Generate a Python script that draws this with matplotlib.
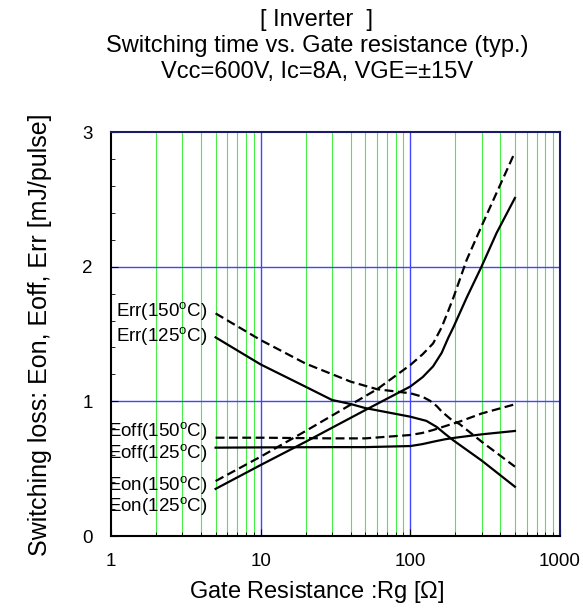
import numpy as np
import matplotlib
matplotlib.use('Agg')
import matplotlib.pyplot as plt
from matplotlib.ticker import FixedLocator, NullFormatter

plt.rcParams['font.family'] = ['Liberation Sans', 'DejaVu Sans']
plt.rcParams['mathtext.fontset'] = 'custom'
plt.rcParams['mathtext.rm'] = 'Liberation Sans'

# values
eon125_rg = [5, 10, 20, 50, 100, 121, 142, 162, 179, 194, 238, 299, 377, 500]
eon125 = [0.35, 0.527, 0.70, 0.935, 1.11, 1.18, 1.26, 1.36, 1.47, 1.55, 1.77, 2.0, 2.25, 2.51]
eon150_rg = [5, 10, 20, 60, 100, 121, 142, 162, 179, 194, 238, 299, 500]
eon150 = [0.408, 0.589, 0.78, 1.09, 1.27, 1.35, 1.43, 1.55, 1.67, 1.77, 2.05, 2.30, 2.85]
eoff125_rg = [5, 10, 30, 50, 100, 120, 142, 170, 200, 300, 500]
eoff125 = [0.656, 0.658, 0.66, 0.66, 0.668, 0.682, 0.70, 0.718, 0.73, 0.755, 0.78]
eoff150_rg = [5, 10, 30, 50, 100, 120, 142, 170, 214, 300, 500]
eoff150 = [0.73, 0.73, 0.725, 0.725, 0.75, 0.765, 0.787, 0.815, 0.85, 0.91, 0.978]
err125_rg = [5, 10, 20, 30, 40, 50, 100, 128, 150, 170, 194, 300, 500]
err125 = [1.475, 1.274, 1.108, 1.01, 0.98, 0.95, 0.886, 0.855, 0.81, 0.76, 0.71, 0.56, 0.366]
err150_rg = [5, 10, 20, 40, 60, 100, 120, 135, 150, 162, 185, 214, 300, 500]
err150 = [1.653, 1.455, 1.28, 1.146, 1.09, 1.06, 1.035, 1.005, 0.965, 0.925, 0.87, 0.83, 0.70, 0.515]

labels = ['Err(150$^{\\rm o}$C)', 'Err(125$^{\\rm o}$C)',
          'Eoff(150$^{\\rm o}$C)', 'Eoff(125$^{\\rm o}$C)',
          'Eon(150$^{\\rm o}$C)', 'Eon(125$^{\\rm o}$C)']
label_y = [1.665, 1.477, 0.774, 0.609, 0.371, 0.218]

fig = plt.figure(figsize=(5.83, 6.10), dpi=100)
ax = fig.add_axes([0.1904, 0.1213, 0.7701, 0.6623])

ax.set_xscale('log')
ax.set_xlim(1, 1000)
ax.set_ylim(0, 3)

minor_x = [m * d for d in (1, 10, 100) for m in range(2, 10)]
for v in minor_x:
    ax.axvline(v, color='#44ee44', lw=0.8, zorder=1)
for v in (10, 100):
    ax.axvline(v, color='#4444ff', lw=1.0, zorder=1)
for v in (1, 2):
    ax.axhline(v, color='#4444ff', lw=1.0, zorder=1)

ax.plot(eon125_rg, eon125, color='black', lw=1.6, zorder=3)
ax.plot(eon150_rg, eon150, color='black', lw=1.6, ls=(0, (4, 2)), zorder=3)
ax.plot(eoff125_rg, eoff125, color='black', lw=1.6, zorder=3)
ax.plot(eoff150_rg, eoff150, color='black', lw=1.6, ls=(0, (4, 2)), zorder=3)
ax.plot(err125_rg, err125, color='black', lw=1.6, zorder=3)
ax.plot(err150_rg, err150, color='black', lw=1.6, ls=(0, (4, 2)), zorder=3)

for t, y in zip(labels, label_y):
    ax.text(4.4, y, t, ha='right', va='center', fontsize=13.5, zorder=4)

ax.xaxis.set_major_locator(FixedLocator([1, 10, 100, 1000]))
ax.set_xticklabels(['1', '10', '100', '1000'])
ax.xaxis.set_minor_locator(FixedLocator(minor_x))
ax.xaxis.set_minor_formatter(NullFormatter())
ax.set_yticks([0, 1, 2, 3])
ax.set_yticks(np.arange(0, 3.01, 0.2), minor=True)
ax.tick_params(axis='both', which='both', direction='in', labelsize=13.5,
               top=False, right=False)
ax.tick_params(axis='x', which='major', length=5, pad=12)
ax.tick_params(axis='y', which='major', length=5, pad=13)
ax.tick_params(axis='both', which='minor', length=3)

for s in ('left', 'bottom'):
    ax.spines[s].set_color('black')
    ax.spines[s].set_linewidth(1.5)
for s in ('top', 'right'):
    ax.spines[s].set_color('#1a1a66')
    ax.spines[s].set_linewidth(1.5)

fig.text(0.5437, 0.0295, 'Gate Resistance :Rg [$\\Omega$]', ha='center', va='center', fontsize=17)
fig.text(0.068, 0.4510, 'Switching loss: Eon, Eoff, Err [mJ/pulse]', ha='center', va='center',
         rotation=90, fontsize=18)

fig.text(0.5437, 0.9672, '[ Inverter  ]', ha='center', va='center', fontsize=17)
fig.text(0.5437, 0.9246, 'Switching time vs. Gate resistance (typ.)', ha='center', va='center', fontsize=17)
fig.text(0.5437, 0.8820, 'Vcc=600V, Ic=8A, VGE=\u00b115V', ha='center', va='center', fontsize=17)

fig.savefig('out.png', dpi=100)
